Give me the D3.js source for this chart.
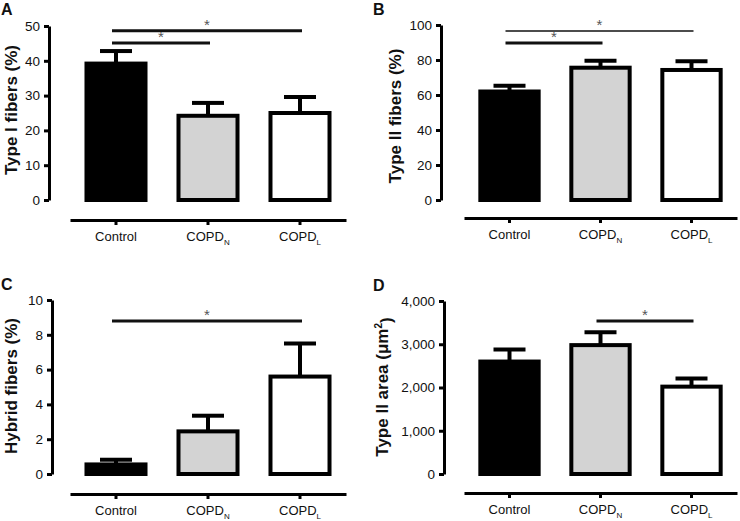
<!DOCTYPE html>
<html>
<head>
<meta charset="utf-8">
<script src="https://cdn.jsdelivr.net/npm/d3@7"></script>
<style>
  body { margin: 0; background: #fff; }
  svg { display: block; font-family: "Liberation Sans", Arial, sans-serif; }
</style>
</head>
<body>
<div id="chart"></div>
<script>
// groups (x axis), label text + subscript
const groups = ["Control", "COPD_N", "COPD_L"]
const groupMain = ["Control", "COPD", "COPD"]
const groupSub = ["", "N", "L"]
const barFills = ["#000000", "#d3d3d3", "#ffffff"]

// A: type I fibers (%)
const typeIMean = [39.2, 24.2, 25.0]
const typeISem = [3.6, 3.7, 4.6]
const typeISig = [[0, 2, 48.6], [0, 1, 45.1]]

// B: type II fibers (%)
const typeIIMean = [62.0, 75.6, 74.3]
const typeIISem = [3.3, 4.0, 5.0]
const typeIISig = [[0, 2, 96.6], [0, 1, 89.7]]

// C: hybrid fibers (%)
const hybridMean = [0.55, 2.45, 5.6]
const hybridSem = [0.27, 0.9, 1.9]
const hybridSig = [[0, 2, 8.8]]

// D: type II area (um2)
const areaMean = [2600, 2980, 2020]
const areaSem = [280, 300, 190]
const areaSig = [[1, 2, 3540]]

const svg = d3.select("#chart")
  .append("svg")
    .attr("width", 740)
    .attr("height", 521)

function drawPanel(p) {
  const g = svg.append("g")

  const y = d3.scaleLinear()
    .domain([0, p.max])
    .range([p.y0, p.y1])

  const x = d3.scaleBand()
    .domain(groups)
    .range([p.xl, p.xr])
    .paddingInner(0.315)
    .paddingOuter(0.1575)

  // y axis
  const yAxis = g.append("g")
    .attr("transform", "translate(" + p.ax + ",0)")
    .call(d3.axisLeft(y).tickValues(p.ticks).tickSize(5).tickSizeOuter(0)
      .tickPadding(4).tickFormat(p.fmt || d3.format("d")))
  yAxis.select(".domain").attr("stroke-width", 3).attr("stroke", "#000")
  yAxis.selectAll(".tick line").attr("stroke-width", 3).attr("stroke", "#000")
  yAxis.selectAll(".tick text").attr("font-size", 13.5).attr("fill", "#111")
    .attr("font-family", "Liberation Sans, Arial, sans-serif")

  // x axis (detached, below the bars)
  const xAxis = g.append("g")
    .attr("transform", "translate(0," + p.xaY + ")")
    .call(d3.axisBottom(x).tickSize(5).tickSizeOuter(0).tickPadding(7))
  xAxis.select(".domain").attr("stroke-width", 3).attr("stroke", "#000")
  xAxis.selectAll(".tick line").attr("stroke-width", 3).attr("stroke", "#000")
  xAxis.selectAll(".tick text")
    .attr("font-size", 13).attr("fill", "#111")
    .attr("font-family", "Liberation Sans, Arial, sans-serif")
    .text(null)
    .each(function(d, i) {
      const t = d3.select(this)
      t.append("tspan").text(groupMain[i])
      if (groupSub[i]) {
        t.append("tspan").text(groupSub[i]).attr("font-size", 8).attr("dy", "0.5em")
      }
    })

  // bars
  g.append("g").selectAll("rect")
    .data(p.mean)
    .enter().append("rect")
      .attr("x", (d, i) => x(groups[i]) + 2)
      .attr("width", x.bandwidth() - 4)
      .attr("y", (d) => y(d))
      .attr("height", (d) => y(0) - y(d))
      .attr("fill", (d, i) => barFills[i])
      .attr("stroke", "#000")
      .attr("stroke-width", 4)

  // error bars (upper only)
  const cx = (i) => x(groups[i]) + x.bandwidth() / 2
  const eb = g.append("g").attr("stroke", "#000").attr("stroke-width", 4)
  p.mean.forEach((m, i) => {
    eb.append("line")
      .attr("x1", cx(i)).attr("x2", cx(i))
      .attr("y1", y(m)).attr("y2", y(m + p.sem[i]))
    eb.append("line")
      .attr("x1", cx(i) - 16).attr("x2", cx(i) + 16)
      .attr("y1", y(m + p.sem[i])).attr("y2", y(m + p.sem[i]))
  })

  // significance bars
  p.sig.forEach((s, k) => {
    const x1 = cx(s[0]) - 4, x2 = cx(s[1]) + 2
    g.append("line")
      .attr("x1", x1).attr("x2", x2)
      .attr("y1", y(s[2])).attr("y2", y(s[2]))
      .attr("stroke", "#111")
      .attr("stroke-width", p.sigW ? p.sigW[k] : 3)
    g.append("text")
      .attr("x", (x1 + x2) / 2)
      .attr("y", y(s[2]) - 1)
      .attr("text-anchor", "middle")
      .attr("font-size", 15)
      .attr("fill", "#555")
      .text("*")
  })

  // y title
  const yt = g.append("text")
    .attr("transform", "translate(" + p.titleX + "," + p.titleY + ") rotate(-90)")
    .attr("text-anchor", "middle")
    .attr("font-size", 17)
    .attr("font-weight", "bold")
    .attr("fill", "#111")
  if (p.titleSup) {
    yt.append("tspan").text(p.title)
    yt.append("tspan").text(p.titleSup).attr("font-size", 10).attr("dy", "-0.6em")
    yt.append("tspan").text(")").attr("dy", "0.6em")
  } else {
    yt.text(p.title)
  }

  // panel letter
  g.append("text")
    .attr("x", p.lx).attr("y", p.ly)
    .attr("font-size", 16)
    .attr("font-weight", "bold")
    .attr("fill", "#111")
    .text(p.letter)
}

drawPanel({
  letter: "A", lx: 1, ly: 15,
  mean: typeIMean, sem: typeISem, sig: typeISig,
  max: 50, ticks: [0, 10, 20, 30, 40, 50],
  y0: 200, y1: 26, ax: 49, xl: 70, xr: 346, xaY: 220,
  title: "Type I fibers (%)", titleX: 17, titleY: 110
})

drawPanel({
  letter: "B", lx: 373, ly: 15,
  mean: typeIIMean, sem: typeIISem, sig: typeIISig, sigW: [1.5, 3],
  max: 100, ticks: [0, 20, 40, 60, 80, 100],
  y0: 200, y1: 25, ax: 441, xl: 464, xr: 737, xaY: 218,
  title: "Type II fibers (%)", titleX: 401, titleY: 116
})

drawPanel({
  letter: "C", lx: 1, ly: 290,
  mean: hybridMean, sem: hybridSem, sig: hybridSig,
  max: 10, ticks: [0, 2, 4, 6, 8, 10],
  y0: 474, y1: 300, ax: 52, xl: 70, xr: 346, xaY: 494,
  title: "Hybrid fibers (%)", titleX: 17, titleY: 386
})

drawPanel({
  letter: "D", lx: 373, ly: 291,
  mean: areaMean, sem: areaSem, sig: areaSig,
  max: 4000, ticks: [0, 1000, 2000, 3000, 4000], fmt: d3.format(","),
  y0: 474, y1: 301, ax: 444, xl: 464, xr: 737, xaY: 493,
  title: "Type II area (μm", titleSup: "2", titleX: 388, titleY: 387
})
</script>
</body>
</html>
